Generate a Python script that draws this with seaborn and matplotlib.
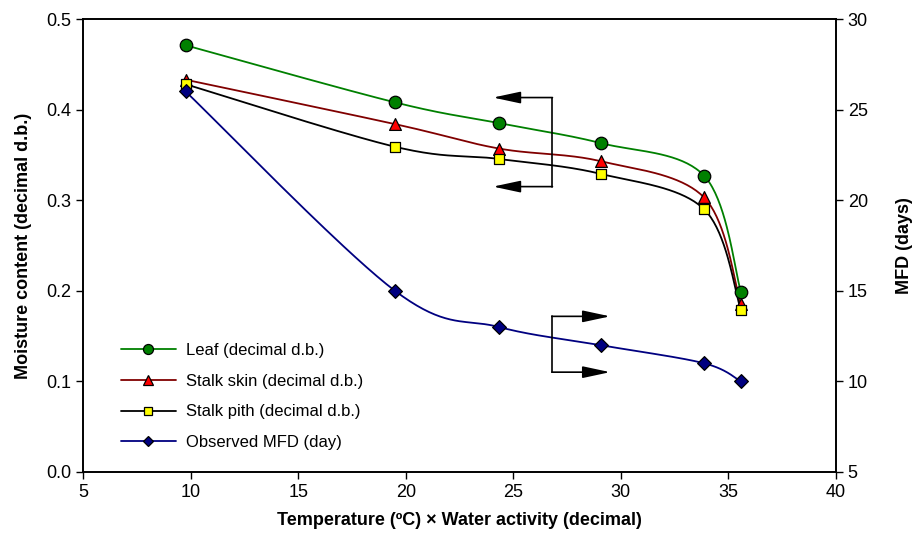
import numpy as np
import pandas as pd
import matplotlib
matplotlib.use("Agg")
import matplotlib.pyplot as plt
import seaborn as sns
from matplotlib.lines import Line2D

sns.set_theme(style="white")
plt.rcParams['font.family'] = ['Liberation Sans', 'DejaVu Sans']
plt.rcParams['text.color'] = 'black'
plt.rcParams['axes.labelcolor'] = 'black'
plt.rcParams['xtick.color'] = 'black'
plt.rcParams['ytick.color'] = 'black'

# Data
x_vals = [9.77, 19.5, 24.34, 29.07, 33.87, 35.58]
leaf = [0.471, 0.408, 0.385, 0.363, 0.327, 0.199]
stalk_skin = [0.433, 0.384, 0.357, 0.343, 0.303, 0.185]
stalk_pith = [0.428, 0.359, 0.3455, 0.329, 0.290, 0.179]
mfd = [26, 15, 13, 12, 11, 10]

x_ticks = [5, 10, 15, 20, 25, 30, 35, 40]
left_ticks = [0.0, 0.1, 0.2, 0.3, 0.4, 0.5]
right_ticks = [5, 10, 15, 20, 25, 30]


def smooth(xs, ys, n=40):
    """Excel-style smoothed line (cubic Bezier / Catmull-Rom)."""
    P = np.column_stack([xs, ys]).astype(float)
    m = len(P)
    out = []
    for i in range(m - 1):
        p0 = P[i - 1] if i > 0 else P[i]
        p1 = P[i]
        p2 = P[i + 1]
        p3 = P[i + 2] if i + 2 < m else P[i + 1]
        c1 = p1 + (p2 - p0) / 6.0
        c2 = p2 - (p3 - p1) / 6.0
        t = np.linspace(0, 1, n)[:, None]
        seg = ((1 - t) ** 3) * p1 + 3 * ((1 - t) ** 2) * t * c1 + 3 * (1 - t) * t ** 2 * c2 + t ** 3 * p2
        out.append(seg if i == 0 else seg[1:])
    s = np.vstack(out)
    return s[:, 0], s[:, 1]


fig = plt.figure(figsize=(9.13, 5.47), dpi=100)
ax = fig.add_axes([83 / 913, 1 - 472 / 547, (836 - 83) / 913, (472 - 19) / 547])
ax2 = ax.twinx()

series = [
    ("Leaf (decimal d.b.)", leaf, "#008000", "#008000", "o", 9, ax),
    ("Stalk skin (decimal d.b.)", stalk_skin, "#800000", "#FF0000", "^", 8.5, ax),
    ("Stalk pith (decimal d.b.)", stalk_pith, "#000000", "#FFFF00", "s", 7, ax),
    ("Observed MFD (day)", mfd, "#000080", "#000080", "D", 7, ax2),
]

handles = []
for name, ys, lc, fc, mk, ms, a in series:
    sx, sy = smooth(x_vals, ys)
    df_line = pd.DataFrame({"x": sx, "y": sy})
    sns.lineplot(data=df_line, x="x", y="y", ax=a, color=lc, linewidth=1.3,
                 sort=False, estimator=None, legend=False)
    df_pts = pd.DataFrame({"x": x_vals, "y": ys})
    sns.scatterplot(data=df_pts, x="x", y="y", ax=a, marker=mk, s=ms ** 2,
                    color=fc, edgecolor="black", linewidth=0.9, zorder=5, legend=False)
    handles.append(Line2D([], [], color=lc, lw=1.3, marker=mk, markersize=ms * 0.8,
                          markerfacecolor=fc, markeredgecolor="black", markeredgewidth=0.9,
                          label=name))

ax.set_xlim(5, 40)
ax.set_ylim(0, 0.5)
ax2.set_ylim(5, 30)
ax.set_xticks(x_ticks)
ax.set_yticks(left_ticks)
ax.set_yticklabels([f"{v:.1f}" for v in left_ticks])
ax2.set_yticks(right_ticks)

for a in (ax, ax2):
    for sp in a.spines.values():
        sp.set_color("black")
        sp.set_linewidth(1.2)
    a.tick_params(direction="out", length=5, width=1, colors="black", labelsize=13)
ax.tick_params(axis="both", which="both", bottom=True, left=True)
ax2.tick_params(axis="y", right=True)

ax.set_xlabel("Temperature (ºC) × Water activity (decimal)", fontsize=13,
              fontweight="bold", labelpad=8, color="black")
ax.set_ylabel("Moisture content (decimal d.b.)", fontsize=13, fontweight="bold",
              labelpad=10, color="black")
ax2.set_ylabel("MFD (days)", fontsize=13, fontweight="bold", labelpad=20, color="black")

# bracket arrows
arrow_kw = dict(arrowstyle="-|>,head_length=1.4,head_width=0.3", color="black", lw=1.2,
                shrinkA=0, shrinkB=0)
ax.plot([26.82, 26.82], [0.315, 0.4133], color="black", lw=1.2)
ax.annotate("", xy=(24.06, 0.4133), xytext=(26.82, 0.4133), arrowprops=arrow_kw)
ax.annotate("", xy=(24.06, 0.315), xytext=(26.82, 0.315), arrowprops=arrow_kw)
ax2.plot([26.79, 26.79], [10.51, 13.59], color="black", lw=1.2)
ax2.annotate("", xy=(29.5, 13.59), xytext=(26.79, 13.59), arrowprops=arrow_kw)
ax2.annotate("", xy=(29.5, 10.51), xytext=(26.79, 10.51), arrowprops=arrow_kw)

leg = ax2.legend(handles=handles, loc="lower left", bbox_to_anchor=(0.03, 0.015),
                 frameon=False, fontsize=12, handlelength=3.3, labelspacing=0.95,
                 handletextpad=0.6)
for t in leg.get_texts():
    t.set_color("black")

fig.savefig("out.png", dpi=100)
